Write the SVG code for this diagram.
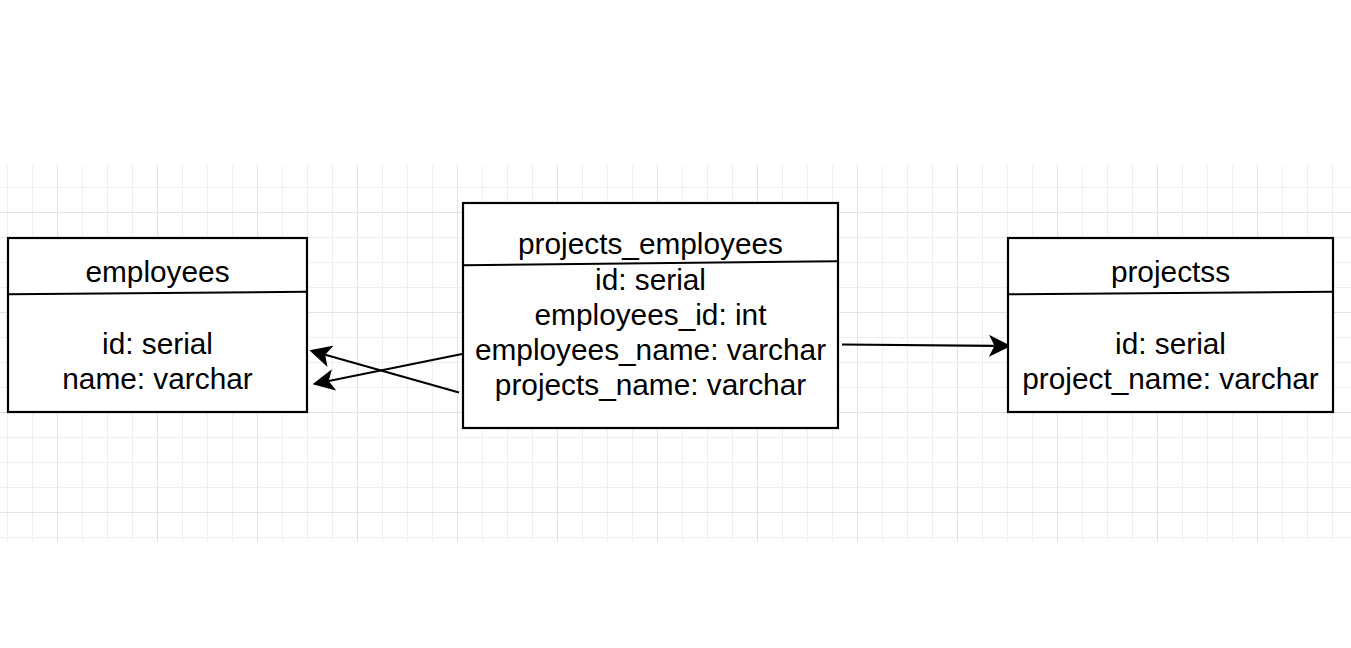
<svg xmlns="http://www.w3.org/2000/svg" width="1351" height="648" viewBox="0 0 1351 648">
<defs>
<style>
.minor{stroke:#efefef;stroke-width:1;fill:none}
.major{stroke:#e2e2e2;stroke-width:1;fill:none}
.box{fill:#ffffff;stroke:#000000;stroke-width:2.2}
.div{stroke:#000000;stroke-width:2;fill:none}
.t{font-family:"Liberation Sans",Arial,sans-serif;font-size:29.8px;fill:#000000;text-anchor:middle}
.edge{stroke:#000000;stroke-width:2.2;fill:none;marker-end:url(#arr)}
</style>
<marker id="arr" viewBox="0 0 22 22" refX="5.5" refY="11" markerWidth="22" markerHeight="22" markerUnits="userSpaceOnUse" orient="auto">
<path d="M0,0 L22,11 L0,22 L5.5,11 Z" fill="#000000"/>
</marker>
</defs>
<rect width="1351" height="648" fill="#ffffff"/>
<g id="grid">
<path class="minor" d="M7.5,165V542M32.5,165V542M82.5,165V542M107.5,165V542M132.5,165V542M182.5,165V542M207.5,165V542M232.5,165V542M282.5,165V542M307.5,165V542M332.5,165V542M382.5,165V542M407.5,165V542M432.5,165V542M482.5,165V542M507.5,165V542M532.5,165V542M582.5,165V542M607.5,165V542M632.5,165V542M682.5,165V542M707.5,165V542M732.5,165V542M782.5,165V542M807.5,165V542M832.5,165V542M882.5,165V542M907.5,165V542M932.5,165V542M982.5,165V542M1007.5,165V542M1032.5,165V542M1082.5,165V542M1107.5,165V542M1132.5,165V542M1182.5,165V542M1207.5,165V542M1232.5,165V542M1282.5,165V542M1307.5,165V542M1332.5,165V542M0,187.5H1351M0,237.5H1351M0,262.5H1351M0,287.5H1351M0,337.5H1351M0,362.5H1351M0,387.5H1351M0,437.5H1351M0,462.5H1351M0,487.5H1351M0,537.5H1351"/>
<path class="major" d="M57.5,165V542M157.5,165V542M257.5,165V542M357.5,165V542M457.5,165V542M557.5,165V542M657.5,165V542M757.5,165V542M857.5,165V542M957.5,165V542M1057.5,165V542M1157.5,165V542M1257.5,165V542M0,212.5H1351M0,312.5H1351M0,412.5H1351M0,512.5H1351"/>
</g>
<g id="connectors">
<path class="edge" d="M842,344.5 L994.5,345.85"/>
<path class="edge" d="M462,354 L328.7,381"/>
<path class="edge" d="M459,392.5 L325.2,354.8"/>
</g>
<g id="employees">
<rect class="box" x="8" y="238" width="299" height="174"/>
<path class="div" d="M9,294.3 L307,291.7"/>
<text class="t" x="157.5" y="281.5">employees</text>
<text class="t" x="157.5" y="354">id: serial</text>
<text class="t" x="157.5" y="389">name: varchar</text>
</g>
<g id="projects_employees">
<rect class="box" x="463" y="203" width="375" height="225"/>
<path class="div" d="M463,265.3 L837,261.3"/>
<text class="t" x="650.5" y="253.5">projects_employees</text>
<text class="t" x="650.5" y="289.5">id: serial</text>
<text class="t" x="650.5" y="324.5">employees_id: int</text>
<text class="t" x="650.5" y="360">employees_name: varchar</text>
<text class="t" x="650.5" y="395">projects_name: varchar</text>
</g>
<g id="projectss">
<rect class="box" x="1008" y="238" width="325" height="174"/>
<path class="div" d="M1009,294.3 L1332,291.7"/>
<text class="t" x="1170.5" y="281.5">projectss</text>
<text class="t" x="1170.5" y="354">id: serial</text>
<text class="t" x="1170.5" y="389">project_name: varchar</text>
</g>
</svg>
